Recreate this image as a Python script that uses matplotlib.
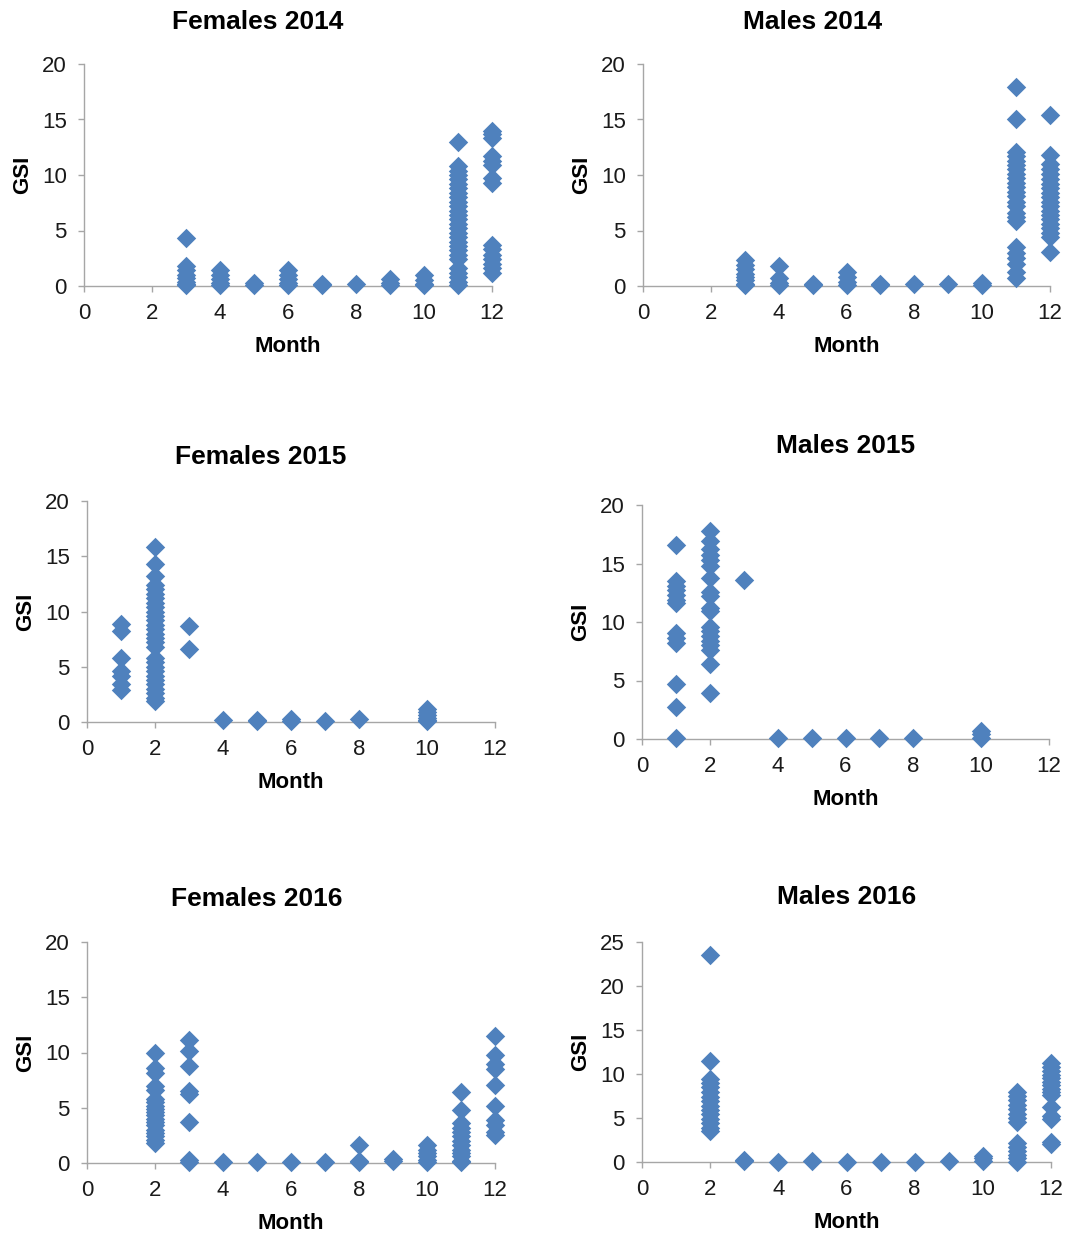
import matplotlib
matplotlib.use("Agg")
from matplotlib import pyplot as plt

plt.rcParams['font.family'] = ['Liberation Sans', 'DejaVu Sans']

# GSI readings per month, one dict per panel
females_2014 = {
    3: [4.3, 1.8, 1.4, 1.0, 0.7, 0.4, 0.2, 0.1],
    4: [1.4, 1.0, 0.6, 0.3, 0.1],
    5: [0.3, 0.1],
    6: [1.4, 1.0, 0.6, 0.3, 0.1],
    7: [0.2, 0.1],
    8: [0.15],
    9: [0.6, 0.3, 0.1],
    10: [1.0, 0.5, 0.2, 0.1],
    11: [13.0, 10.8, 10.4, 10.0, 9.6, 9.2, 8.8, 8.4, 8.0, 7.6, 7.2, 6.8, 6.4, 6.0,
         5.6, 5.2, 4.8, 4.4, 4.0, 3.6, 3.2, 2.8, 2.4, 1.6, 1.2, 0.8, 0.4, 0.1],
    12: [14.0, 13.7, 13.3, 11.7, 11.3, 10.9, 9.7, 9.3, 3.7, 3.3, 2.8, 2.4, 2.0, 1.6, 1.2],
}
males_2014 = {
    3: [2.3, 1.9, 1.5, 1.1, 0.8, 0.5, 0.2, 0.05],
    4: [1.8, 0.7, 0.3, 0.05],
    5: [0.2, 0.05],
    6: [1.3, 0.8, 0.4, 0.1],
    7: [0.2, 0.1],
    8: [0.15],
    9: [0.2],
    10: [0.3, 0.1],
    11: [17.9, 15.0, 12.1, 11.7, 11.3, 10.9, 10.5, 10.1, 9.7, 9.3, 8.9, 8.5, 8.1, 7.6,
         7.2, 6.6, 6.2, 5.9, 3.5, 3.0, 2.5, 2.0, 1.3, 0.7],
    12: [15.4, 11.8, 11.0, 10.5, 10.1, 9.6, 9.2, 8.8, 8.4, 8.0, 7.6, 7.2, 6.8, 6.4,
         6.0, 5.6, 5.2, 4.8, 4.4, 3.1],
}
females_2015 = {
    1: [8.9, 8.2, 5.8, 4.6, 4.2, 3.4, 2.9],
    2: [15.8, 14.3, 13.2, 12.4, 12.0, 11.6, 11.2, 10.8, 10.4, 10.0, 9.6, 9.2, 8.8, 8.4,
        8.0, 7.6, 7.2, 6.8, 5.8, 5.4, 5.0, 4.6, 4.2, 3.8, 3.4, 3.0, 2.6, 2.2, 1.9],
    3: [8.7, 6.6],
    4: [0.15],
    5: [0.15, 0.1],
    6: [0.25, 0.1],
    7: [0.05],
    8: [0.3],
    10: [1.2, 0.9, 0.6, 0.4, 0.2, 0.05],
}
males_2015 = {
    1: [16.6, 13.5, 13.1, 12.7, 12.3, 11.9, 11.6, 9.1, 8.6, 8.2, 4.7, 2.7, 0.05],
    2: [17.8, 16.9, 16.2, 15.7, 15.3, 14.8, 13.8, 12.6, 12.2, 11.2, 10.9, 9.6, 9.2, 8.8,
        8.4, 8.0, 7.6, 6.4, 3.9],
    3: [13.6],
    4: [0.05],
    5: [0.1],
    6: [0.05],
    7: [0.05],
    8: [0.05],
    10: [0.7, 0.4, 0.1],
}
females_2016 = {
    2: [10.0, 8.6, 8.1, 7.0, 6.6, 5.8, 5.5, 5.2, 4.9, 4.6, 4.3, 4.0, 3.7, 3.4, 3.0,
        2.7, 2.4, 2.1, 1.8],
    3: [11.1, 10.1, 8.8, 6.5, 6.2, 3.7, 0.3, 0.1],
    4: [0.1],
    5: [0.1],
    6: [0.1],
    7: [0.1],
    8: [1.6, 0.2, 0.1],
    9: [0.4, 0.2],
    10: [1.6, 1.2, 0.9, 0.6, 0.3, 0.05],
    11: [6.4, 4.8, 3.6, 3.2, 2.8, 2.4, 2.0, 1.6, 1.2, 0.9, 0.6, 0.2, 0.05],
    12: [11.5, 9.8, 9.0, 8.5, 7.1, 5.2, 3.9, 3.4, 2.8, 2.5],
}
males_2016 = {
    2: [23.5, 11.5, 9.4, 9.0, 8.5, 8.0, 7.4, 6.9, 6.4, 5.9, 5.4, 4.9, 4.4, 3.9, 3.5],
    3: [0.2, 0.1],
    4: [0.05],
    5: [0.15],
    6: [0.05],
    7: [0.05],
    8: [0.05],
    9: [0.15],
    10: [0.7, 0.4, 0.15],
    11: [8.0, 7.5, 7.0, 6.5, 6.0, 5.5, 5.0, 4.5, 2.2, 1.7, 1.2, 0.8, 0.4, 0.05],
    12: [11.3, 10.8, 10.3, 9.9, 9.5, 9.1, 8.7, 8.3, 7.9, 7.6, 6.2, 5.2, 4.9, 2.3, 2.0],
}

titles = ['Females 2014', 'Males 2014', 'Females 2015', 'Males 2015',
          'Females 2016', 'Males 2016']
panels = [females_2014, males_2014, females_2015, males_2015, females_2016, males_2016]
y_max = [20, 20, 20, 20, 20, 25]
x_ticks = [0, 2, 4, 6, 8, 10, 12]

W, H = 1070, 1236
# axes boxes in pixels: left, top, right, bottom
boxes = [
    (84, 64, 492, 286),
    (643, 64, 1050, 286),
    (87, 501, 495, 722),
    (642, 505, 1049, 739),
    (87, 942, 495, 1163),
    (642, 942, 1051, 1162),
]
# title centres in pixels
title_pos = [(258, 22), (813, 22), (261, 457), (846, 446), (257, 899), (847, 897)]

blue = '#4F81BD'
grey = '#A6A6A6'

fig = plt.figure(figsize=(W / 100, H / 100), dpi=100)

for i, data in enumerate(panels):
    l, t, r, b = boxes[i]
    ax = fig.add_axes([l / W, 1 - b / H, (r - l) / W, (b - t) / H])
    for month, vals in data.items():
        ax.scatter([month] * len(vals), vals, marker='D', s=98, color=blue,
                   linewidths=0, clip_on=False, zorder=3)
    ax.set_xlim(0, 12)
    ax.set_ylim(0, y_max[i])
    ax.set_xticks(x_ticks)
    ax.set_yticks(range(0, y_max[i] + 1, 5))
    for side in ['top', 'right']:
        ax.spines[side].set_visible(False)
    for side in ['left', 'bottom']:
        ax.spines[side].set_color(grey)
        ax.spines[side].set_linewidth(1.0)
    ax.tick_params(axis='both', colors=grey, labelcolor='#1a1a1a', labelsize=16,
                   length=4.5, width=1.0, direction='out')
    ax.tick_params(axis='x', pad=7.5)
    ax.tick_params(axis='y', pad=8)
    ax.set_xlabel('Month', fontsize=16, fontweight='bold', labelpad=9)
    ax.set_ylabel('GSI', fontsize=16, fontweight='bold', labelpad=6)
    tx, ty = title_pos[i]
    fig.text(tx / W, 1 - ty / H, titles[i], fontsize=19, fontweight='bold',
             ha='center', va='center')

fig.savefig('out.png', dpi=100, facecolor='white')
